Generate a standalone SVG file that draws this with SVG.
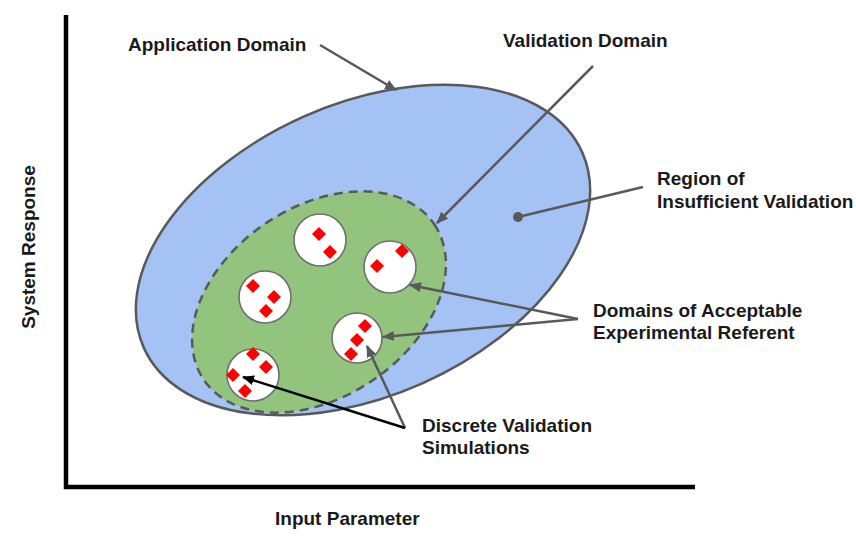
<svg xmlns="http://www.w3.org/2000/svg" width="856" height="540" viewBox="0 0 856 540">
<defs>
<style>
.lbl{font-family:"Liberation Sans",Arial,sans-serif;font-weight:bold;font-size:19px;fill:#1a1a1a}
.gl{stroke:#595959;stroke-width:2.5;fill:none}
.bl{stroke:#000;stroke-width:2.5;fill:none}
.sim{fill:#fff;stroke:#6f6f6f;stroke-width:1.6}
.pt{fill:#ff0000}
</style>
<marker id="ag" viewBox="0 0 12 10" refX="11" refY="5" markerWidth="12" markerHeight="10" markerUnits="userSpaceOnUse" orient="auto">
<path d="M0,0 L12,5 L0,10 z" fill="#595959"/>
</marker>
<marker id="ab" viewBox="0 0 12 10" refX="11" refY="5" markerWidth="12" markerHeight="10" markerUnits="userSpaceOnUse" orient="auto">
<path d="M0,0 L12,5 L0,10 z" fill="#000"/>
</marker>
<path id="dm" d="M0,-7 L7,0 L0,7 L-7,0 z"/>
</defs>
<rect width="856" height="540" fill="#fff"/>
<g id="axes">
<path d="M66,15 L66,487 L695,487" stroke="#000" stroke-width="4.5" fill="none"/>
<text class="lbl" x="275" y="525">Input Parameter</text>
<text class="lbl" transform="translate(35,247) rotate(-90)" text-anchor="middle">System Response</text>
</g>
<g id="application-domain">
<ellipse cx="363" cy="250" rx="240" ry="146" transform="rotate(-24 363 250)" fill="#a4c2f4" stroke="#595959" stroke-width="2.5"/>
</g>
<g id="validation-domain">
<ellipse cx="319" cy="302" rx="139" ry="95" transform="rotate(-34 319 302)" fill="#93c47d" stroke="#595959" stroke-width="2.5" stroke-dasharray="9 6"/>
</g>
<g id="sim1"><circle class="sim" cx="320" cy="240" r="26"/><use href="#dm" class="pt" x="319" y="234"/><use href="#dm" class="pt" x="330" y="252"/></g>
<g id="sim2"><circle class="sim" cx="390" cy="267" r="26"/><use href="#dm" class="pt" x="402" y="251"/><use href="#dm" class="pt" x="377" y="266"/></g>
<g id="sim3"><circle class="sim" cx="265" cy="297" r="26"/><use href="#dm" class="pt" x="253" y="286"/><use href="#dm" class="pt" x="274" y="297"/><use href="#dm" class="pt" x="266" y="311"/></g>
<g id="sim4"><circle class="sim" cx="357" cy="338" r="25"/><use href="#dm" class="pt" x="365" y="326"/><use href="#dm" class="pt" x="357" y="340"/><use href="#dm" class="pt" x="351" y="354"/></g>
<g id="sim5"><circle class="sim" cx="253" cy="375" r="26"/><use href="#dm" class="pt" x="253" y="354"/><use href="#dm" class="pt" x="266" y="367"/><use href="#dm" class="pt" x="233" y="375"/><use href="#dm" class="pt" x="245" y="391"/></g>
<g id="connectors">
<line class="gl" x1="320" y1="45" x2="396" y2="90" marker-end="url(#ag)"/>
<line class="gl" x1="593" y1="66" x2="437" y2="223" marker-end="url(#ag)"/>
<line class="gl" x1="518" y1="217" x2="643" y2="187"/>
<circle cx="518" cy="217" r="5" fill="#595959"/>
<line class="gl" x1="578" y1="319" x2="410" y2="285" marker-end="url(#ag)"/>
<line class="gl" x1="578" y1="319" x2="383" y2="337" marker-end="url(#ag)"/>
<line class="gl" x1="405" y1="428" x2="367" y2="346" marker-end="url(#ag)"/>
<line class="bl" x1="405" y1="428" x2="243" y2="377" marker-end="url(#ab)"/>
</g>
<g id="labels">
<text class="lbl" x="128" y="51">Application Domain</text>
<text class="lbl" x="503" y="47">Validation Domain</text>
<text class="lbl" x="657" y="185">Region of</text>
<text class="lbl" x="657" y="208">Insufficient Validation</text>
<text class="lbl" x="593" y="317">Domains of Acceptable</text>
<text class="lbl" x="593" y="339">Experimental Referent</text>
<text class="lbl" x="422" y="432">Discrete Validation</text>
<text class="lbl" x="422" y="454">Simulations</text>
</g>
</svg>
